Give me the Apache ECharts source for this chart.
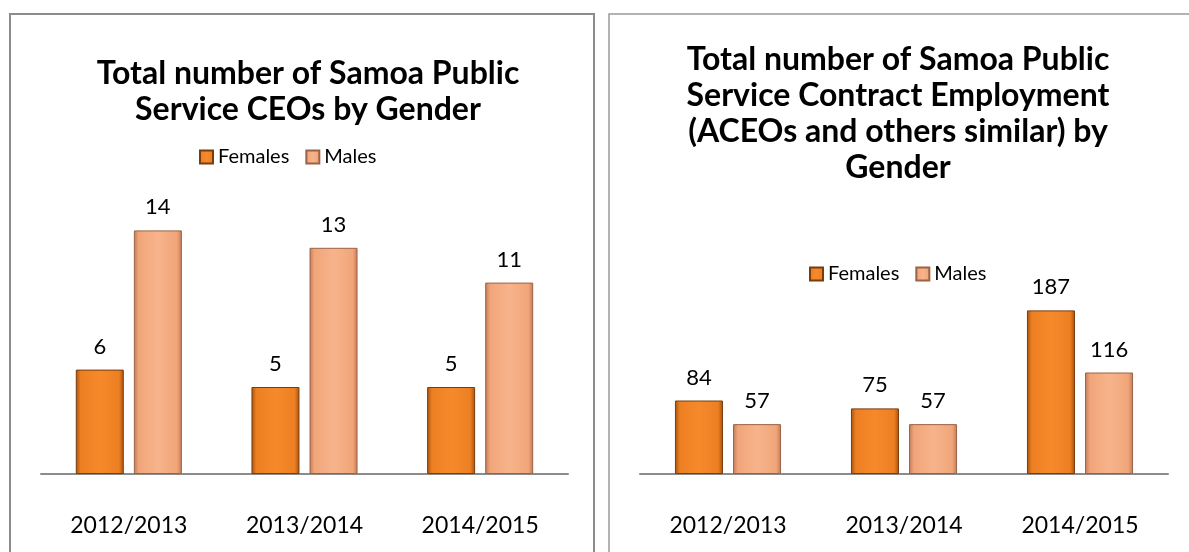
<!DOCTYPE html>
<html><head><meta charset="utf-8">
<script src="https://cdn.jsdelivr.net/npm/echarts@6/dist/echarts.min.js"></script>
<style>html,body{margin:0;padding:0;background:#fff}#c{width:1189px;height:552px}</style>
</head><body><div id="c"></div>
<script>
const categories = ['2012/2013', '2013/2014', '2014/2015'];
const ceoFemales = [6, 5, 5];
const ceoMales = [14, 13, 11];
const contractFemales = [84, 75, 187];
const contractMales = [57, 57, 116];
const seriesNames = ['Females', 'Males'];

const FONT = 'Lato, "Open Sans", sans-serif';
function grad(dark, mid, light) {
  return new echarts.graphic.LinearGradient(0, 0, 1, 0, [
    {offset: 0, color: dark}, {offset: 0.1, color: mid}, {offset: 0.5, color: light},
    {offset: 0.9, color: mid}, {offset: 1, color: dark}
  ]);
}
const femStyle = {color: grad('#a9520f', '#ec7f22', '#f68a2b'), borderColor: '#7a3c0c', borderWidth: 1};
const maleStyle = {color: grad('#c07c58', '#f1a579', '#f7b48c'), borderColor: '#9c6245', borderWidth: 1};
const lbl = {show: true, position: 'top', distance: 12, color: '#000', fontSize: 22, fontFamily: FONT};
const legendText = {fontFamily: FONT, fontSize: 20, color: '#000'};

const chart = echarts.init(document.getElementById('c'));
chart.setOption({
  animation: false,
  graphic: [
    {type: 'rect', shape: {x: 10, y: 14, width: 584, height: 600}, style: {fill: 'none', stroke: '#8c8c8c', lineWidth: 2}},
    {type: 'rect', shape: {x: 609, y: 14, width: 600, height: 600}, style: {fill: 'none', stroke: '#9a9a9a', lineWidth: 1.5}}
  ],
  title: [
    {text: 'Total number of Samoa Public\nService CEOs by Gender', left: 303, top: 51, textAlign: 'center',
     textStyle: {fontFamily: FONT, fontWeight: 'bold', fontSize: 32, lineHeight: 36, color: '#000'}},
    {text: 'Total number of Samoa Public\nService Contract Employment\n(ACEOs and others similar) by\nGender', left: 893, top: 37, textAlign: 'center',
     textStyle: {fontFamily: FONT, fontWeight: 'bold', fontSize: 32, lineHeight: 36, color: '#000'}}
  ],
  legend: [
    {data: seriesNames, left: 194, top: 142, itemWidth: 13, itemHeight: 13, itemGap: 16, icon: 'rect', textStyle: legendText},
    {data: seriesNames, left: 804, top: 259, itemWidth: 13, itemHeight: 13, itemGap: 16, icon: 'rect', textStyle: legendText}
  ],
  grid: [
    {left: 41, right: 621, top: 126, bottom: 78},
    {left: 640, right: 21, top: 299, bottom: 78}
  ],
  xAxis: [0, 1].map(i => ({
    type: 'category', gridIndex: i, data: categories,
    axisLine: {lineStyle: {color: '#8c8c8c', width: 2}}, axisTick: {show: false},
    axisLabel: {color: '#000', fontSize: 23, fontFamily: FONT, margin: 40}
  })),
  yAxis: [
    {type: 'value', gridIndex: 0, min: 0, max: 20, show: false, splitLine: {show: false}},
    {type: 'value', gridIndex: 1, min: 0, max: 200, show: false, splitLine: {show: false}}
  ],
  series: [
    {name: 'Females', type: 'bar', xAxisIndex: 0, yAxisIndex: 0, data: ceoFemales, barWidth: 48, barGap: '21%', itemStyle: femStyle, label: lbl},
    {name: 'Males', type: 'bar', xAxisIndex: 0, yAxisIndex: 0, data: ceoMales, barWidth: 48, barGap: '21%', itemStyle: maleStyle, label: lbl},
    {name: 'Females', type: 'bar', xAxisIndex: 1, yAxisIndex: 1, data: contractFemales, barWidth: 48, barGap: '21%', itemStyle: femStyle, label: lbl},
    {name: 'Males', type: 'bar', xAxisIndex: 1, yAxisIndex: 1, data: contractMales, barWidth: 48, barGap: '21%', itemStyle: maleStyle, label: lbl}
  ]
});
</script></body></html>
